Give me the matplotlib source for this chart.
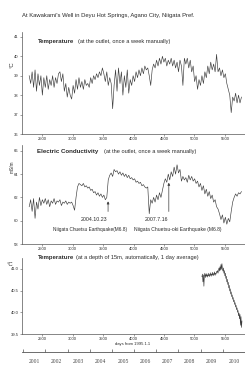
import numpy as np
import matplotlib
matplotlib.use("Agg")
import matplotlib.pyplot as plt

# ---------------- data ----------------
# Temperature at the outlet (weekly manual), sampled every 24 days from day 2290
temp_start, temp_step = 2290, 24
temp_outlet = [
    39.0, 38.6, 39.2, 38.4, 39.3, 38.2, 39.1, 38.5, 39.0, 38.0, 38.9,
    38.4, 39.0, 38.3, 38.8, 38.5, 39.0, 38.4, 38.9, 38.6, 39.1,
    39.2, 38.7, 39.1, 38.2, 38.6, 37.9, 38.4,
    38.0, 37.8, 38.5, 38.1, 38.8, 38.3, 38.9, 38.4, 38.7,
    38.3, 38.8, 38.5, 38.6, 38.4, 38.9, 38.6, 39.0, 38.8, 39.1, 38.9, 39.2,
    39.0, 39.4, 39.1, 38.7, 39.2, 38.5, 38.9, 38.6,
    37.3, 38.5, 39.3, 38.2, 39.4, 38.6,
    39.2, 38.0, 39.0, 38.4, 39.3, 38.1, 38.8, 38.5,
    39.0, 38.7, 39.2, 38.9, 39.3, 39.0, 39.4, 39.1, 39.5, 39.3,
    39.4, 39.0, 38.5, 39.3,
    39.6, 39.4, 39.8, 39.5, 39.9, 39.6, 40.0, 39.7, 39.9, 39.5, 39.8,
    39.6, 39.9, 39.5, 39.8, 39.4, 39.7, 39.2, 39.8, 39.5, 38.5, 39.9, 39.6, 39.9, 39.4, 39.8,
    39.2, 39.5, 38.7, 39.0, 38.3, 38.8, 38.5, 39.0,
    38.6, 39.2, 38.9, 39.5, 39.1, 39.7, 39.3, 39.6,
    39.2, 40.1, 39.2,
    39.4, 39.0, 39.3, 38.9, 39.1, 38.6,
    38.3, 38.0, 37.1, 37.9, 37.7,
    38.1, 37.6, 38.0, 37.6, 37.9,
]

# Electric conductivity (mS/m), sampled every 24 days from day 2290
ec_start, ec_step = 2290, 24
ec_values = [
    61.2, 61.8, 60.8, 61.9, 60.2, 61.6, 61.0, 62.0, 61.3, 61.8, 61.5,
    61.9, 61.4, 61.8, 61.2, 61.7, 61.5, 61.9, 61.4, 61.7, 61.6,
    61.8, 61.3, 61.6, 61.5, 61.7, 61.4, 61.6, 61.5, 61.6, 61.3, 60.9,
    62.0, 62.9, 63.2,
    63.1, 63.0, 63.2, 62.9, 63.0, 62.8, 62.9, 62.6, 62.7, 62.4, 62.5, 62.2, 62.4, 62.1, 62.3,
    62.0, 62.2, 61.8, 62.0, 63.5,
    63.9, 64.1, 63.8, 64.4, 64.2, 64.3,
    64.0, 64.2, 63.9, 64.1, 63.8, 64.0, 63.7, 63.9, 63.6, 63.7,
    63.5, 63.6, 63.3, 63.4, 63.2, 63.3, 63.0, 63.1, 62.9, 62.8,
    62.9, 60.6, 61.8, 61.5,
    62.0, 61.6, 62.2, 61.8, 62.4, 62.0, 62.6,
    63.2, 63.6, 63.3, 64.0, 63.5,
    64.2, 63.8, 64.6, 64.0, 64.8, 64.1, 64.4,
    63.4, 63.8, 63.5, 63.7, 63.3, 63.9, 63.5, 63.8, 63.4, 63.6, 63.2,
    63.4, 62.9, 63.2, 62.6, 63.0, 62.3, 62.7, 62.1, 62.5, 61.9, 62.2, 61.6,
    61.8, 61.2, 61.0, 60.6, 60.1, 60.5, 59.8, 60.3, 59.7,
    60.2, 59.9, 60.8, 61.6,
    62.0, 62.3, 62.1, 62.4, 62.3, 62.5,
]

# Temperature at a depth of 15 m (daily average), sampled every 8 days from day 5122
deep_start, deep_step = 5122, 8
temp_deep = [
    40.82, 40.88, 40.70, 40.86, 40.60, 40.84, 40.90, 40.80, 40.87, 40.83, 40.89,
    40.81, 40.86, 40.84, 40.90, 40.82, 40.87, 40.85, 40.91, 40.83, 40.88,
    40.86, 40.92, 40.84, 40.89, 40.87, 40.93, 40.85, 40.90, 40.88, 40.94,
    40.92, 40.96, 40.90, 40.98, 41.02, 40.95, 41.05, 40.97, 41.10, 40.99, 41.12, 41.00,
    40.95, 41.02, 40.90, 40.96, 40.84, 40.90, 40.78, 40.83, 40.70, 40.76,
    40.64, 40.69, 40.56, 40.62, 40.49, 40.54, 40.42, 40.47, 40.36, 40.40,
    40.30, 40.34, 40.24, 40.28, 40.18, 40.22, 40.12, 40.16, 40.06, 40.10,
    40.00, 40.04, 39.92, 39.98, 39.85, 39.95, 39.70, 39.90, 39.65, 39.80,
]

quake_days = [3583, 4579]
quake_dates = ["2004.10.23", "2007.7.16"]
quake_names = ["Niigata Chuetsu Earthquake(M6.8)", "Niigata Chuetsu-oki Earthquake (M6.8)"]

day_ticks = [2500, 3000, 3500, 4000, 4500, 5000, 5500]
years = [2001, 2002, 2003, 2004, 2005, 2006, 2007, 2008, 2009, 2010]
year_start_days = [2191, 2556, 2922, 3287, 3652, 4017, 4383, 4748, 5113, 5478, 5844]

# ---------------- figure ----------------
W, H = 245, 369
fig = plt.figure(figsize=(W / 100, H / 100), dpi=100)
fig.patch.set_facecolor("white")
plt.rcParams["font.family"] = ["Liberation Sans", "DejaVu Sans"]

LINE = "#3c3c3c"
TXT = "#2a2a2a"
XLIM = (2172, 5828)


def ax_rect(top, bottom, left=22, right=245):
    return [left / W, 1 - bottom / H, (right - left) / W, (bottom - top) / H]


def ftext(x, y, s, **kw):
    kw.setdefault("color", TXT)
    return fig.text(x / W, 1 - y / H, s, **kw)


def style_axis(ax):
    for s in ("top", "right"):
        ax.spines[s].set_visible(False)
    for s in ("left", "bottom"):
        ax.spines[s].set_linewidth(0.5)
        ax.spines[s].set_color("#555555")
    ax.tick_params(axis="both", labelsize=3.0, length=1.5, width=0.4,
                   colors="#555555", labelcolor=TXT, pad=1)
    ax.set_xlim(*XLIM)
    ax.set_xticks(day_ticks)


# Panel 1
ax1 = fig.add_axes(ax_rect(32, 134))
d1 = temp_start + temp_step * np.arange(len(temp_outlet))
ax1.plot(d1, temp_outlet, color=LINE, lw=0.45)
ax1.set_ylim(36, 41.25)
ax1.set_yticks([36, 37, 38, 39, 40, 41])
style_axis(ax1)

# Panel 2
ax2 = fig.add_axes(ax_rect(145, 244))
d2 = ec_start + ec_step * np.arange(len(ec_values))
ax2.plot(d2, ec_values, color=LINE, lw=0.45)
ax2.set_ylim(58, 66.5)
ax2.set_yticks([58, 60, 62, 64, 66])
style_axis(ax2)
arrow_tops = [61.9, 63.5]
for qd, qs, top in zip(quake_days, quake_dates, arrow_tops):
    ax2.annotate("", xy=(qd, top), xytext=(qd, 60.55),
                 arrowprops=dict(arrowstyle="-|>", color=LINE, lw=0.5,
                                 mutation_scale=3.5))
    ax2.text(qd - 15, 60.1, qs, ha="right", va="center", fontsize=3.8, color=TXT)
ftext(53, 229, quake_names[0], fontsize=3.45, va="center")
ftext(134, 229, quake_names[1], fontsize=3.6, va="center")

# Panel 3
ax3 = fig.add_axes(ax_rect(258, 334))
d3 = deep_start + deep_step * np.arange(len(temp_deep))
ax3.plot(d3, temp_deep, color=LINE, lw=0.45)
ax3.set_ylim(39.5, 41.25)
ax3.set_yticks([39.5, 40, 40.5, 41])
style_axis(ax3)
ftext(133, 344, "days from 1995.1.1", fontsize=3.0, ha="center", va="center")

# Year axis
axy = fig.add_axes([22 / W, 1 - 352 / H, (245 - 22) / W, 0.001])
axy.set_xlim(*XLIM)
axy.set_ylim(0, 1)
for s in ("top", "right", "left"):
    axy.spines[s].set_visible(False)
axy.spines["bottom"].set_linewidth(0.6)
axy.spines["bottom"].set_color("#555555")
axy.set_yticks([])
axy.set_xticks(year_start_days)
axy.set_xticklabels([])
axy.tick_params(axis="x", which="major", direction="in", length=2.2, width=0.5,
                colors="#555555")
mids = [(year_start_days[i] + year_start_days[i + 1]) / 2 for i in range(len(years))]
axy.set_xticks(mids, minor=True)
axy.set_xticklabels([str(y) for y in years], minor=True,
                    fontfamily="Liberation Serif", fontsize=4.0, color="#444444")
axy.tick_params(axis="x", which="minor", length=0, pad=5)

# Texts
ftext(22, 15, "At Kawakami's Well in Deyu Hot Springs, Agano City, Niigata Pref.",
      fontsize=4.2, va="center")
ftext(38, 41, "Temperature", fontsize=4.4, va="center", fontweight="bold")
ftext(78, 41, "(at the outlet, once a week manually)", fontsize=4.1, va="center")
ftext(37, 151, "Electric Conductivity", fontsize=4.4, va="center", fontweight="bold")
ftext(104, 151, "(at the outlet, once a week manually)", fontsize=4.1, va="center")
ftext(38, 258, "Temperature", fontsize=4.4, va="center", fontweight="bold")
ftext(76, 258, "(at a depth of 15m, automatically, 1 day average)", fontsize=4.1,
      va="center")
ftext(12, 65, "°C", fontsize=4.4, rotation=90, ha="center", va="center")
ftext(12, 167, "mS/m", fontsize=3.4, rotation=90, ha="center", va="center")
ftext(10, 264, "°C", fontsize=4.4, ha="center", va="center")

fig.savefig("out.png", dpi=100, facecolor="white")
